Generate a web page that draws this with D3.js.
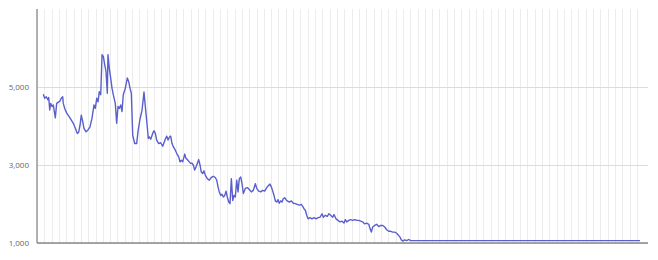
<!DOCTYPE html>
<meta charset="utf-8">
<script src="https://d3js.org/d3.v7.min.js"></script>
<style>
    body {
        margin: 0;
        background: #fff;
        font-family: "Open Sans", sans-serif;
    }
    .grid line {
        shape-rendering: crispEdges;
    }
    .grid path {
        stroke-width: 0;
    }
</style>
<div id="viz_area"></div>
<script>
    // month index (x) and price (y)
    var months = [0.86, 1.05, 1.27, 1.50, 1.60, 1.74, 1.87, 2.05, 2.23, 2.50, 2.69, 2.97, 3.14, 3.32, 3.51, 3.59, 3.79, 4.06, 4.33, 4.69,
        4.96, 5.23, 5.51, 5.70, 5.88, 6.05, 6.25, 6.42, 6.70, 6.97, 7.24, 7.52, 7.79, 7.97, 8.16, 8.34, 8.51, 8.71, 8.89, 9.07,
        9.26, 9.43, 9.61, 9.70, 9.88, 10.07, 10.25, 10.43, 10.70, 10.89, 11.07, 11.25, 11.44, 11.62, 11.79, 12.07, 12.34, 12.53, 12.71, 12.89,
        13.08, 13.35, 13.62, 13.80, 14.08, 14.35, 14.62, 14.89, 15.07, 15.21, 15.35, 15.54, 15.81, 15.99, 16.17, 16.36, 16.63, 16.91, 17.18, 17.36,
        17.53, 17.73, 17.91, 18.08, 18.27, 18.45, 18.63, 18.90, 19.09, 19.37, 19.54, 19.72, 19.91, 20.19, 20.36, 20.54, 20.81, 21.01, 21.18, 21.36,
        21.55, 21.73, 21.91, 22.10, 22.28, 22.45, 22.65, 22.82, 23.00, 23.27, 23.55, 23.82, 24.10, 24.37, 24.56, 24.74, 24.91, 25.11, 25.28, 25.46,
        25.66, 25.83, 26.01, 26.20, 26.38, 26.56, 26.75, 26.92, 27.10, 27.30, 27.47, 27.65, 27.84, 28.02, 28.20, 28.47, 28.74, 29.01, 29.29, 29.56,
        29.84, 30.03, 30.30, 30.57, 30.85, 31.12, 31.39, 31.67, 31.84, 32.02, 32.21, 32.39, 32.57, 32.76, 32.94, 33.11, 33.31, 33.49, 33.66, 33.85,
        34.03, 34.21, 34.48, 34.76, 35.03, 35.30, 35.57, 35.85, 36.12, 36.31, 36.49, 36.67, 36.86, 37.04, 37.31, 37.58, 37.86, 38.13, 38.40, 38.68,
        38.95, 39.13, 39.40, 39.68, 39.87, 40.14, 40.41, 40.59, 40.86, 41.14, 41.41, 41.68, 41.96, 42.14, 42.33, 42.60, 42.87, 43.15, 43.42, 43.70,
        43.97, 44.24, 44.52, 44.79, 45.06, 45.34, 45.51, 45.69, 45.88, 46.15, 46.43, 46.70, 46.97, 47.25, 47.52, 47.79, 48.07, 48.34, 48.61, 48.89,
        49.16, 49.43, 49.61, 49.79, 49.98, 50.25, 50.53, 50.80, 51.07, 52.34, 82.41]
    var prices = [4815, 4710, 4750, 4670, 4730, 4410, 4580, 4500, 4540, 4210, 4580, 4620, 4640, 4710, 4750, 4580, 4450, 4330, 4260, 4150,
        4070, 3950, 3810, 3840, 4020, 4280, 4110, 3940, 3850, 3900, 3980, 4200, 4540, 4450, 4710, 4620, 4880, 4800, 5830, 5780,
        5570, 5400, 4840, 5830, 5480, 5230, 4970, 4800, 4580, 4070, 4500, 4450, 4540, 4370, 4800, 4970, 5230, 5140, 4970, 4840,
        3770, 3550, 3550, 3850, 4180, 4400, 4870, 4330, 3980, 3680, 3720, 3660, 3810, 3880, 3810, 3640, 3550, 3570, 3480, 3570,
        3660, 3740, 3640, 3710, 3740, 3550, 3470, 3380, 3300, 3210, 3080, 3120, 3080, 3280, 3170, 3140, 3080, 3040, 3050, 3000,
        2870, 2950, 3040, 3140, 3000, 2820, 2780, 2850, 2740, 2650, 2610, 2680, 2710, 2680, 2610, 2440, 2310, 2220, 2250, 2180,
        2220, 2330, 2180, 2050, 2010, 2650, 2090, 2220, 2180, 2610, 2310, 2650, 2690, 2520, 2270, 2400, 2420, 2370, 2310, 2350,
        2520, 2400, 2330, 2310, 2350, 2330, 2420, 2480, 2510, 2440, 2330, 2220, 2080, 2050, 2110, 2020, 2080, 2050, 2140, 2160,
        2110, 2080, 2050, 2080, 2020, 2010, 1990, 1970, 1990, 1940, 1880, 1840, 1710, 1620, 1650, 1620, 1650, 1620, 1650, 1660,
        1750, 1660, 1710, 1680, 1750, 1710, 1660, 1730, 1620, 1580, 1540, 1560, 1510, 1600, 1540, 1580, 1600, 1580, 1600, 1580,
        1580, 1560, 1540, 1490, 1510, 1480, 1370, 1280, 1410, 1450, 1480, 1420, 1450, 1450, 1410, 1340, 1300, 1300, 1280, 1280,
        1250, 1190, 1150, 1080, 1050, 1080, 1060, 1090, 1060, 1060, 1060]
    var yTicks = [1000, 3000, 5000]
    var gridMonths = d3.range(0, 83)

    var margin = {
        left: 37,
        top: 9,
        right: 10,
        bottom: 17
    }
    var w = 658 - margin.left - margin.right
    var h = 260 - margin.top - margin.bottom

    var svG = d3.select("#viz_area")
        .append("svg")
        .attr("width", 658)
        .attr("height", 260)
        .append("g")
        .attr("transform", "translate(" + margin.left + "," + margin.top + ")")

    var x = d3.scaleLinear()
        .domain([0, 83.5])
        .range([0, w])

    var y = d3.scaleLinear()
        .domain([1000, 7000])
        .range([h, 0])

    // vertical month grid
    svG.append("g")
        .attr("class", "grid")
        .selectAll("line")
        .data(gridMonths)
        .enter()
        .append("line")
        .attr("x1", function(d) { return Math.round(x(d)) + 0.5 })
        .attr("x2", function(d) { return Math.round(x(d)) + 0.5 })
        .attr("y1", 0)
        .attr("y2", h)
        .attr("stroke", "#ececec")

    // horizontal grid + labels
    var yAxis = svG.append("g")
        .attr("class", "grid")
        .call(d3.axisLeft(y).tickValues(yTicks).tickSize(-w).tickPadding(8)
            .tickFormat(d3.format(",")))
    yAxis.select(".domain").remove()
    yAxis.selectAll("line").attr("stroke", "#dcdcdc")
    yAxis.selectAll("text")
        .attr("fill", "#666")
        .attr("font-size", "8px")
        .attr("font-family", "'Open Sans', sans-serif")

    // axis lines
    svG.append("line")
        .attr("x1", 0).attr("x2", 0)
        .attr("y1", 0).attr("y2", h)
        .attr("stroke", "#999")
        .attr("stroke-width", 1.5)
    svG.append("line")
        .attr("x1", 0).attr("x2", w)
        .attr("y1", h).attr("y2", h)
        .attr("stroke", "#8a8a8a")
        .attr("stroke-width", 1.5)

    var line = d3.line()
        .x(function(d, i) { return x(months[i]) })
        .y(function(d) { return y(d) })

    svG.append("path")
        .datum(prices)
        .attr("fill", "none")
        .attr("stroke", "#5a5fcc")
        .attr("stroke-width", 1.4)
        .attr("stroke-linejoin", "round")
        .attr("d", line)
</script>
